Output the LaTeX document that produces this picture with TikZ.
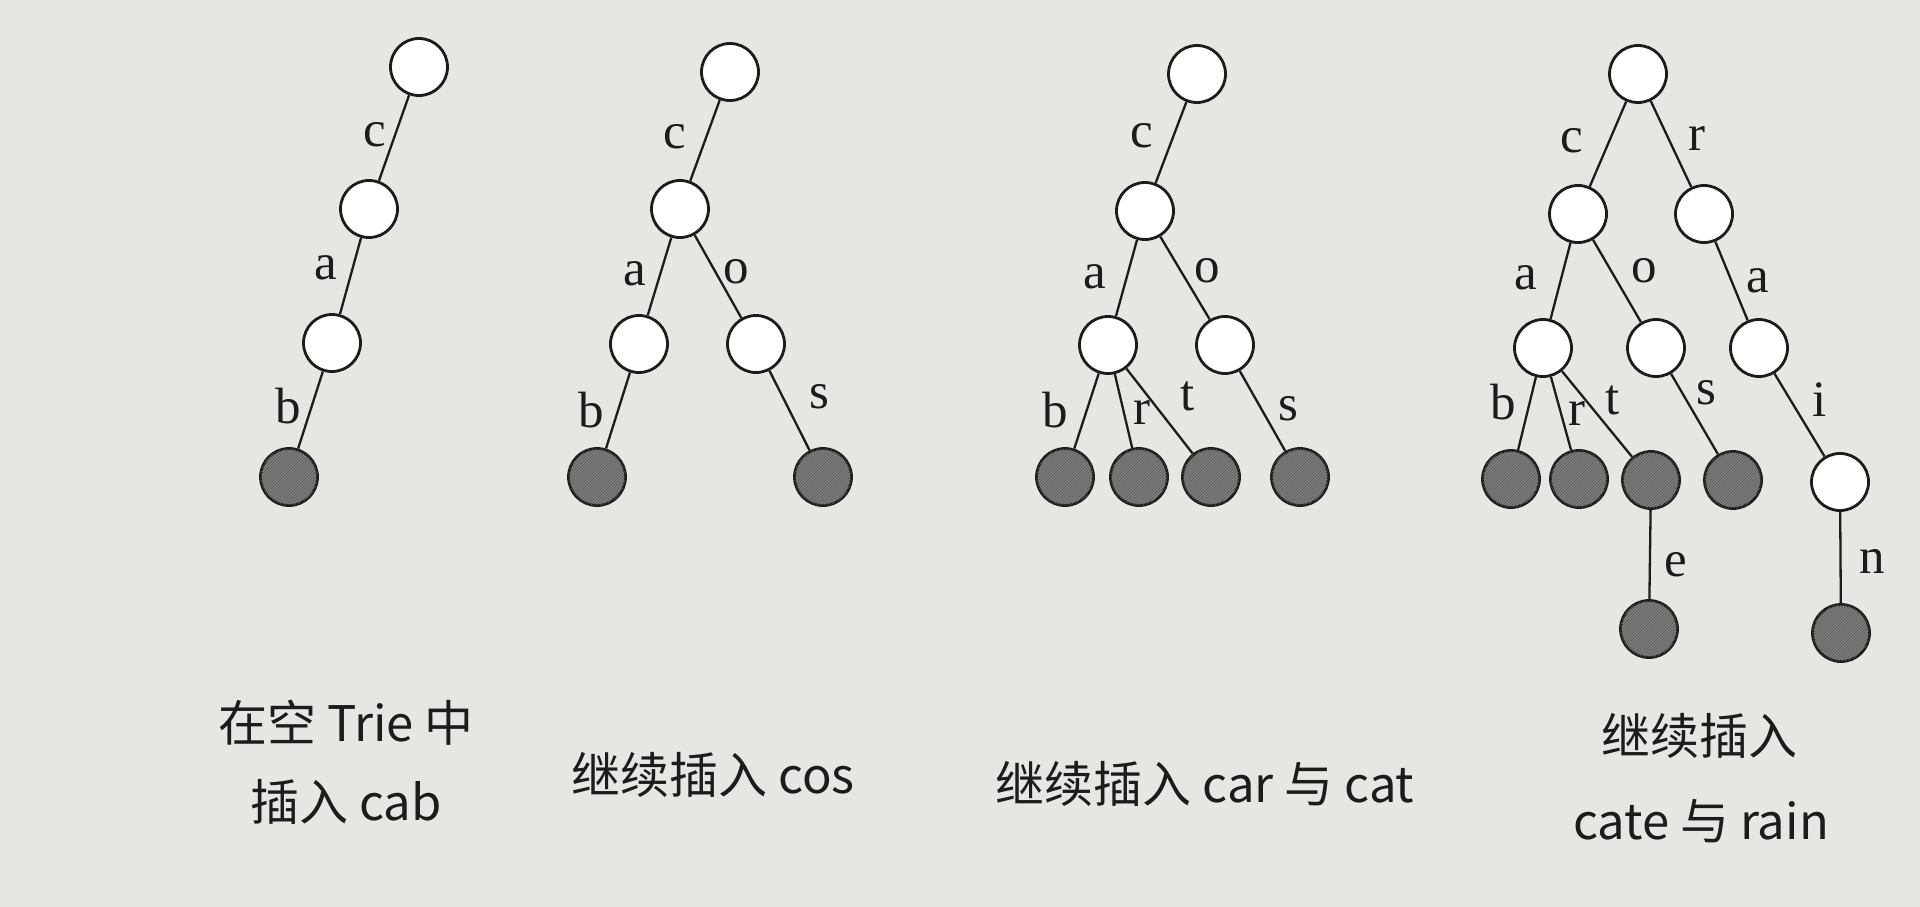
\documentclass[tikz,border=0pt]{standalone}
\usepackage{fontspec}
\usetikzlibrary{patterns}
\setmainfont{Liberation Serif}
\newfontfamily\cjk{Noto Sans CJK SC}
\definecolor{paper}{RGB}{230,230,227}
\definecolor{ink}{RGB}{28,28,28}
\definecolor{leafgray}{RGB}{128,128,128}
\definecolor{hatch}{RGB}{90,90,90}
\begin{document}
\begin{tikzpicture}[x=1pt,y=-1pt,
  innode/.style={circle,draw=ink,line width=2.8pt,fill=white,minimum size=57pt,inner sep=0pt},
  leafnode/.style={circle,draw=ink,line width=2.8pt,fill=leafgray,minimum size=57pt,inner sep=0pt,
    postaction={pattern=north east lines,pattern color=hatch}},
  link/.style={draw=ink,line width=2.3pt},
  lbl/.style={font=\fontsize{51}{51}\selectfont,text=ink,inner sep=0pt},
  captxt/.style={font=\cjk\fontsize{49}{55}\selectfont,text=ink,inner sep=0pt,align=center}]
\fill[paper] (0,0) rectangle (1920,907);
\useasboundingbox (0,0) rectangle (1920,907);
% ---------- tree 1
\node[innode] (t1r) at (419,67) {};
\node[innode] (t1c) at (369,209) {};
\node[innode] (t1a) at (332,343) {};
\node[leafnode]  (t1b) at (289,477) {};
\draw[link] (t1r) -- (t1c);
\draw[link] (t1c) -- (t1a);
\draw[link] (t1a) -- (t1b);
\node[lbl] (l1c) at (375,135) {c};
\node[lbl] (l1a) at (326,268) {a};
\node[lbl] (l1b) at (288,406) {b};
\node[captxt] (cap1a) at (346,723) {在空 Trie 中};
\node[captxt] (cap1b) at (346,802) {插入 cab};
% ---------- tree 2
\node[innode] (t2r) at (730,72) {};
\node[innode] (t2c) at (680,209) {};
\node[innode] (t2a) at (639,344) {};
\node[innode] (t2o) at (756,344) {};
\node[leafnode]  (t2b) at (597,477) {};
\node[leafnode]  (t2s) at (823,477) {};
\draw[link] (t2r) -- (t2c);
\draw[link] (t2c) -- (t2a);
\draw[link] (t2c) -- (t2o);
\draw[link] (t2a) -- (t2b);
\draw[link] (t2o) -- (t2s);
\node[lbl] (l2c) at (675,137) {c};
\node[lbl] (l2a) at (635,274) {a};
\node[lbl] (l2o) at (736,272) {o};
\node[lbl] (l2b) at (591,410) {b};
\node[lbl] (l2s) at (819,397) {s};
\node[captxt] (cap2) at (713,775) {继续插入 cos};
% ---------- tree 3
\node[innode] (t3r) at (1197,74) {};
\node[innode] (t3c) at (1145,211) {};
\node[innode] (t3a) at (1108,345) {};
\node[innode] (t3o) at (1225,345) {};
\node[leafnode]  (t3b) at (1065,477) {};
\node[leafnode]  (t3rr) at (1139,477) {};
\node[leafnode]  (t3t) at (1211,477) {};
\node[leafnode]  (t3s) at (1300,477) {};
\draw[link] (t3r) -- (t3c);
\draw[link] (t3c) -- (t3a);
\draw[link] (t3c) -- (t3o);
\draw[link] (t3a) -- (t3b);
\draw[link] (t3a) -- (t3rr);
\draw[link] (t3a) -- (t3t);
\draw[link] (t3o) -- (t3s);
\node[lbl] (l3c) at (1142,136) {c};
\node[lbl] (l3a) at (1095,277) {a};
\node[lbl] (l3o) at (1207,271) {o};
\node[lbl] (l3b) at (1055,410) {b};
\node[lbl] (l3r) at (1142,412) {r};
\node[lbl] (l3t) at (1188,396) {t};
\node[lbl] (l3s) at (1288,409) {s};
\node[captxt] (cap3) at (1205,784) {继续插入 car 与 cat};
% ---------- tree 4
\node[innode] (t4r) at (1638,74) {};
\node[innode] (t4c) at (1578,214) {};
\node[innode] (t4rr) at (1704,214) {};
\node[innode] (t4a) at (1543,348) {};
\node[innode] (t4o) at (1656,348) {};
\node[innode] (t4a2) at (1759,348) {};
\node[leafnode]  (t4b) at (1511,479) {};
\node[leafnode]  (t4r2) at (1579,479) {};
\node[leafnode]  (t4t) at (1651,480) {};
\node[leafnode]  (t4s) at (1733,480) {};
\node[innode] (t4i) at (1840,482) {};
\node[leafnode]  (t4e) at (1649,629) {};
\node[leafnode]  (t4n) at (1841,633) {};
\draw[link] (t4r) -- (t4c);
\draw[link] (t4r) -- (t4rr);
\draw[link] (t4c) -- (t4a);
\draw[link] (t4c) -- (t4o);
\draw[link] (t4rr) -- (t4a2);
\draw[link] (t4a) -- (t4b);
\draw[link] (t4a) -- (t4r2);
\draw[link] (t4a) -- (t4t);
\draw[link] (t4o) -- (t4s);
\draw[link] (t4a2) -- (t4i);
\draw[link] (t4t) -- (t4e);
\draw[link] (t4i) -- (t4n);
\node[lbl] (l4c) at (1572,141) {c};
\node[lbl] (l4r) at (1697,138) {r};
\node[lbl] (l4a) at (1526,278) {a};
\node[lbl] (l4o) at (1644,271) {o};
\node[lbl] (l4a2) at (1758,281) {a};
\node[lbl] (l4b) at (1503,402) {b};
\node[lbl] (l4r2) at (1577,413) {r};
\node[lbl] (l4t) at (1613,400) {t};
\node[lbl] (l4s) at (1706,393) {s};
\node[lbl] (l4i) at (1820,400) {i};
\node[lbl] (l4e) at (1676,565) {e};
\node[lbl] (l4n) at (1872,561) {n};
\node[captxt] (cap4a) at (1699,736) {继续插入};
\node[captxt] (cap4b) at (1701,821) {cate 与 rain};
\end{tikzpicture}
\end{document}
